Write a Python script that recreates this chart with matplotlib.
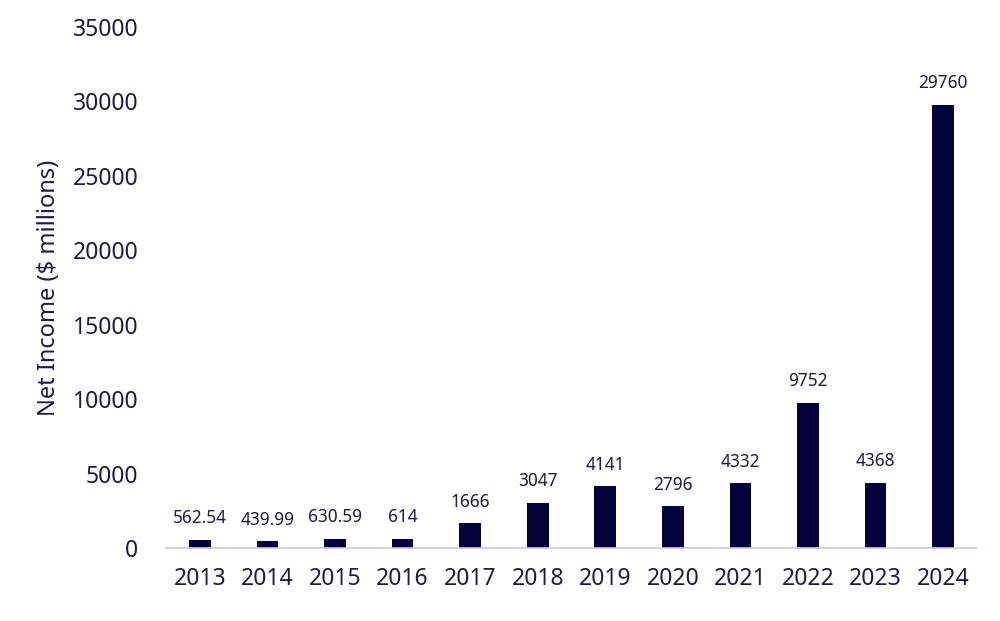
import numpy as np
import matplotlib.pyplot as plt

# DATA
years = ['2013', '2014', '2015', '2016', '2017', '2018', '2019', '2020', '2021', '2022', '2023', '2024']
net_income = [562.54, 439.99, 630.59, 614, 1666, 3047, 4141, 2796, 4332, 9752, 4368, 29760]
value_labels = ['562.54', '439.99', '630.59', '614', '1666', '3047', '4141', '2796', '4332', '9752', '4368', '29760']
y_ticks = [0, 5000, 10000, 15000, 20000, 25000, 30000, 35000]

plt.rcParams['font.family'] = ['Noto Sans', 'DejaVu Sans']
navy = '#03003a'
text_col = '#1c1a48'

fig = plt.figure(figsize=(10, 6.21), dpi=100)
ax = fig.add_axes([0.166, 0.1176, 0.811, 0.839])

x = np.arange(len(years))
bars = ax.bar(x, net_income, width=0.32, color=navy)

for xi, v, lab in zip(x, net_income, value_labels):
    ax.annotate(lab, (xi, v), xytext=(0, 9), textcoords='offset points',
                ha='center', va='bottom', fontsize=12.4, color=text_col)

ax.set_xlim(-0.5, len(years) - 0.5)
ax.set_ylim(0, 35000)
ax.set_xticks(x)
ax.set_xticklabels(years)
ax.set_yticks(y_ticks)
ax.tick_params(axis='both', length=0, labelsize=16.5, labelcolor=text_col)
ax.tick_params(axis='y', pad=20)
ax.tick_params(axis='x', pad=14)

for s in ['top', 'right', 'left']:
    ax.spines[s].set_visible(False)
ax.spines['bottom'].set_color('#c9c5f2')
ax.spines['bottom'].set_linewidth(1.2)

ax.set_ylabel('Net Income ($ millions)', fontsize=17, color=text_col, labelpad=8)

fig.savefig('out.png', dpi=100)
